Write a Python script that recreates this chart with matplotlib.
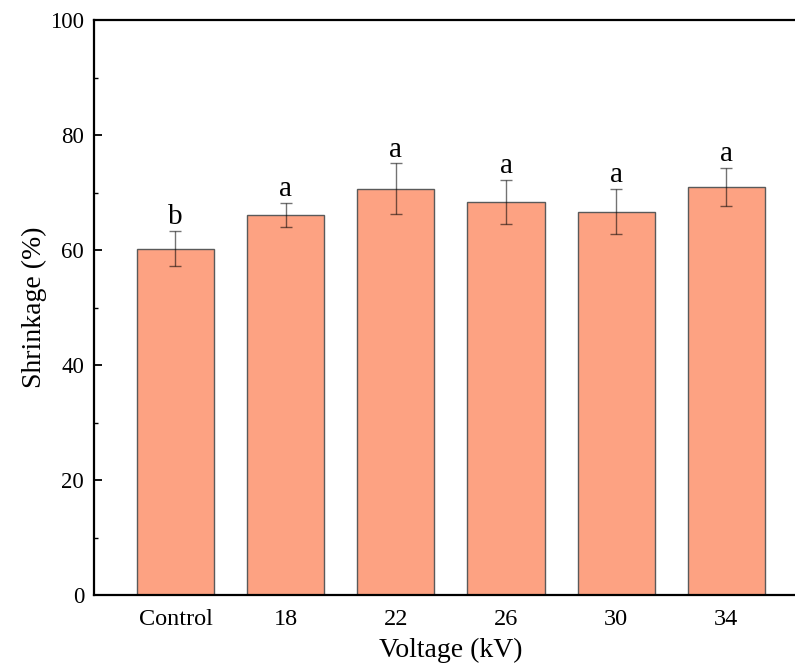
import matplotlib
matplotlib.use("Agg")
import matplotlib.pyplot as plt
from matplotlib.ticker import MultipleLocator

# Shrinkage by electrospinning voltage
categories = ["Control", "18", "22", "26", "30", "34"]
shrinkage = [60.2, 66.1, 70.7, 68.3, 66.7, 71.0]
errors = [3.05, 2.1, 4.35, 3.85, 3.85, 3.35]
groups = ["b", "a", "a", "a", "a", "a"]

plt.rcParams["font.family"] = ["Liberation Serif", "DejaVu Serif"]

fig = plt.figure(figsize=(7.95, 6.7), dpi=100)
ax = fig.add_axes([0.1182, 0.1119, 0.898, 0.8582])

x = list(range(len(categories)))
ax.bar(x, shrinkage, width=0.7, color="#FDA282", edgecolor="#5a5a5a",
       linewidth=1.0, zorder=2)
ax.errorbar(x, shrinkage, yerr=errors, fmt="none", ecolor="black",
            elinewidth=1.0, capsize=4.3, capthick=1.0, alpha=0.55, zorder=3)

for xi, v, e, g in zip(x, shrinkage, errors, groups):
    ax.annotate(g, xy=(xi, v + e), xytext=(0, 5), textcoords="offset points",
                ha="center", va="baseline", fontsize=21)

ax.set_xlim(-0.74, 5.74)
ax.set_ylim(0, 100)
ax.set_xticks(x)
ax.set_xticklabels(categories)
ax.yaxis.set_major_locator(MultipleLocator(20))
ax.yaxis.set_minor_locator(MultipleLocator(10))

ax.tick_params(axis="x", length=0, pad=10, labelsize=17.5)
ax.tick_params(axis="y", which="major", direction="in", length=6, width=1.3,
               pad=7, labelsize=16.5)
ax.tick_params(axis="y", which="minor", direction="in", length=3, width=1.0)

for side in ["left", "bottom", "top", "right"]:
    ax.spines[side].set_linewidth(1.6)

ax.set_xlabel("Voltage (kV)", fontsize=20, labelpad=6)
ax.set_ylabel("Shrinkage (%)", fontsize=20, labelpad=2)

fig.savefig("out.png", dpi=100)
